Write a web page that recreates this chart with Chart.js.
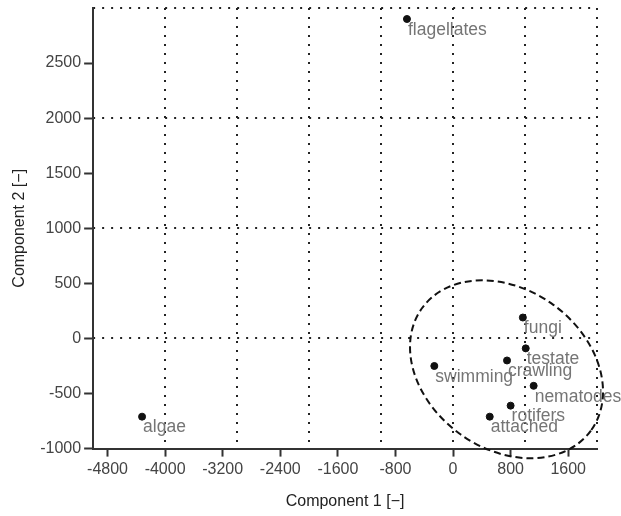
<!DOCTYPE html>
<html>
<head>
<meta charset="utf-8">
<script src="https://cdn.jsdelivr.net/npm/chart.js@4.4.1/dist/chart.umd.min.js"></script>
<style>
  html, body { margin: 0; padding: 0; background: #fff; }
  #wrap { width: 621px; height: 516px; }
</style>
</head>
<body>
<div id="wrap"><canvas id="pcaChart"></canvas></div>
<script>
// data
const categories = ['flagellates', 'algae', 'fungi', 'testate', 'crawling', 'swimming', 'nematodes', 'rotifers', 'attached'];
const comp1 = [-640, -4320, 970, 1010, 750, -260, 1120, 800, 510];
const comp2 = [2900, -710, 190, -90, -200, -250, -430, -610, -710];
const xTickLabels = [-4800, -4000, -3200, -2400, -1600, -800, 0, 800, 1600];
const yTickLabels = [-1000, -500, 0, 500, 1000, 1500, 2000, 2500];
// dashed group ellipse: centre (data units), semi axes (comp1 units), tilt in degrees
const ellipseCenter = [743, -280];
const ellipseAxes = [1449, 1107];
const ellipseTilt = 36;

const FONT = '"Liberation Sans", Arial, sans-serif';
const plain = function (v) { return String(v); };

// labels next to the points + the dashed ellipse
const annotations = {
    id: 'annotations',
    afterDraw(chart) {
        const ctx = chart.ctx;
        const sx = chart.scales.x, sy = chart.scales.y;
        const meta = chart.getDatasetMeta(0);
        ctx.save();
        ctx.font = '17.5px ' + FONT;
        ctx.fillStyle = '#757575';
        ctx.textAlign = 'left';
        ctx.textBaseline = 'middle';
        meta.data.forEach(function (pt, i) {
            ctx.fillText(categories[i], pt.x + 1, pt.y + 11);
        });

        const cx = sx.getPixelForValue(ellipseCenter[0]);
        const cy = sy.getPixelForValue(ellipseCenter[1]);
        const a = Math.abs(sx.getPixelForValue(ellipseCenter[0] + ellipseAxes[0]) - cx);
        const b = Math.abs(sx.getPixelForValue(ellipseCenter[0] + ellipseAxes[1]) - cx);
        ctx.beginPath();
        ctx.setLineDash([7, 4]);
        ctx.lineWidth = 2;
        ctx.strokeStyle = '#111';
        ctx.ellipse(cx, cy, a, b, ellipseTilt * Math.PI / 180, 0, Math.PI * 2);
        ctx.stroke();
        ctx.restore();
    }
};

new Chart(document.getElementById('pcaChart'), {
    type: 'scatter',
    data: {
        datasets: [{
            data: comp1.map(function (v, i) { return { x: v, y: comp2[i] }; }),
            backgroundColor: '#111',
            borderColor: '#111',
            pointRadius: 3.5,
            pointHoverRadius: 3.5
        }]
    },
    plugins: [annotations],
    options: {
        responsive: true,
        maintainAspectRatio: false,
        animation: false,
        layout: { padding: { left: 10, right: 24, top: 8, bottom: 5 } },
        plugins: { legend: { display: false }, tooltip: { enabled: false } },
        scales: {
            x: {
                type: 'linear', position: 'bottom', min: -5000, max: 2000,
                afterBuildTicks: function (scale) { scale.ticks = xTickLabels.map(function (v) { return { value: v }; }); },
                grid: { drawOnChartArea: false, drawTicks: true, tickLength: 8, tickWidth: 2, tickColor: '#333' },
                border: { display: true, color: '#333', width: 2 },
                ticks: { callback: plain, font: { family: FONT, size: 16 }, color: '#444', padding: 3, maxRotation: 0, autoSkip: false },
                title: { display: true, text: 'Component 1 [\u2212]', font: { family: FONT, size: 16 }, color: '#222', padding: { top: 10, bottom: 0 } }
            },
            xg: {
                type: 'linear', position: 'top', min: -5000, max: 2000,
                ticks: { display: false, stepSize: 1000 },
                grid: { drawTicks: false, color: '#222', lineWidth: 2 },
                border: { display: false, dash: [2, 7] }
            },
            y: {
                type: 'linear', position: 'left', min: -1000, max: 3000,
                afterBuildTicks: function (scale) { scale.ticks = yTickLabels.map(function (v) { return { value: v }; }); },
                afterFit: function (scale) { scale.paddingTop = 0; },
                grid: { drawOnChartArea: false, drawTicks: true, tickLength: 9, tickWidth: 2, tickColor: '#333' },
                border: { display: true, color: '#333', width: 2 },
                ticks: { callback: plain, font: { family: FONT, size: 16 }, color: '#444', padding: 3, autoSkip: false },
                title: { display: true, text: 'Component 2 [\u2212]', font: { family: FONT, size: 16 }, color: '#222', padding: { top: 0, bottom: 8 } }
            },
            yg: {
                type: 'linear', position: 'right', min: -1000, max: 3000,
                ticks: { display: false, stepSize: 1000 },
                grid: { drawTicks: false, color: '#222', lineWidth: 2 },
                border: { display: false, dash: [2, 7] }
            }
        }
    }
});
</script>
</body>
</html>
